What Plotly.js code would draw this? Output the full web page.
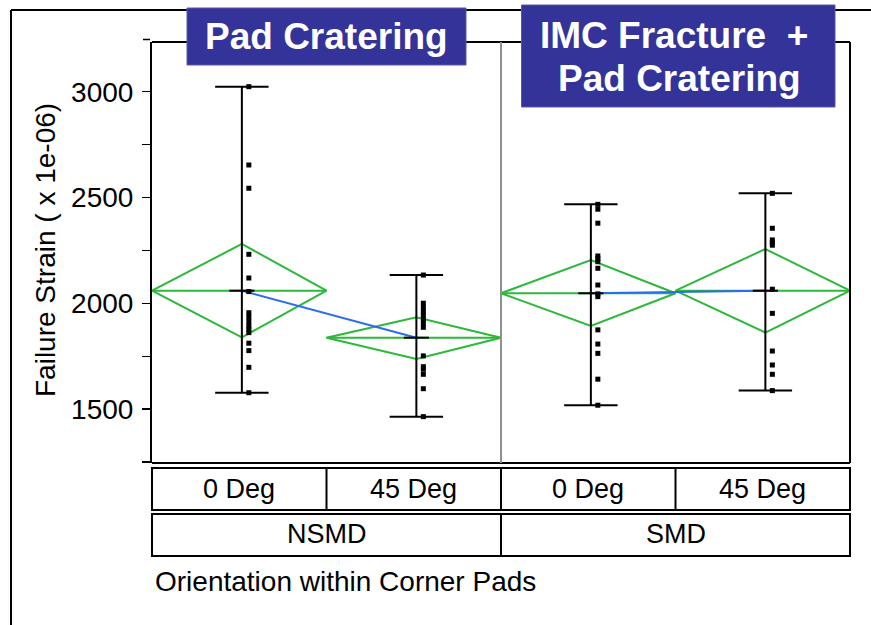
<!DOCTYPE html>
<html>
<head>
<meta charset="utf-8">
<script src="https://cdn.plot.ly/plotly-3.0.1.min.js"></script>
<style>html,body{margin:0;padding:0;background:#fff;}#chart{width:871px;height:625px;}</style>
</head>
<body>
<div id="chart"></div>
<script>
// ---------- data ----------
const orientationLabels = ["0 Deg", "45 Deg", "0 Deg", "45 Deg"];
const padTypeLabels = ["NSMD", "SMD"];
const strain_NSMD_0 = [3024, 2654, 2544, 2232, 2120, 2056, 1956, 1935, 1914, 1893, 1878, 1862, 1812, 1777, 1698, 1578];
const strain_NSMD_45 = [2134, 2001, 1982, 1963, 1944, 1925, 1906, 1887, 1752, 1701, 1689, 1665, 1597, 1465];
const strain_SMD_0 = [2468, 2445, 2379, 2224, 2211, 2197, 2166, 2087, 2045, 2032, 1875, 1808, 1764, 1642, 1519];
const strain_SMD_45 = [2520, 2355, 2300, 2287, 2275, 2067, 1953, 1775, 1709, 1665, 1588];
const groupMeans = [2060, 1838, 2048, 2060];
const diamondUpper = [2281, 1934, 2205, 2257];
const diamondLower = [1840, 1738, 1893, 1862];
const yTickVals = [1500, 2000, 2500, 3000];
const panelTitles = ["Pad Cratering", "IMC Fracture\u00a0 +", "Pad Cratering"];
const yTitle = "Failure Strain ( x 1e-06)";
const xTitle = "Orientation within Corner Pads";

const groups = [strain_NSMD_0, strain_NSMD_45, strain_SMD_0, strain_SMD_45];

// ---------- styling / geometry ----------
const GREEN = "#2cb83a", BLUE = "#2a6cf0", NAVY = "#333399";
const FONT = "Liberation Sans, Arial, sans-serif";
const L = 152, R = 850, T = 42, B = 463;
const PX = p => (p - L) / (R - L);
const PY = p => (B - p) / (B - T);
const C = 0.515, P = 0.555, CAP = 0.153, MT = 0.072;

const traces = [];
// mean diamonds
groups.forEach((g, i) => {
  traces.push({
    x: [i, i + C, i + 1, i + C, i, null, i, i + 1],
    y: [groupMeans[i], diamondUpper[i], groupMeans[i], diamondLower[i], groupMeans[i], null, groupMeans[i], groupMeans[i]],
    mode: "lines", line: {color: GREEN, width: 2}, hoverinfo: "skip", showlegend: false
  });
});
// connecting means
[[0, 1], [2, 3]].forEach(([a, b]) => {
  traces.push({x: [a + C, b + C], y: [groupMeans[a], groupMeans[b]], mode: "lines",
    line: {color: BLUE, width: 2}, hoverinfo: "skip", showlegend: false});
});
// whiskers (range) + mean ticks
const wx = [], wy = [];
groups.forEach((g, i) => {
  const mx = Math.max(...g), mn = Math.min(...g), c = i + C;
  wx.push(c, c, null, c - CAP, c + CAP, null, c - CAP, c + CAP, null, c - MT, c + MT, null);
  wy.push(mn, mx, null, mx, mx, null, mn, mn, null, groupMeans[i], groupMeans[i], null);
});
traces.push({x: wx, y: wy, mode: "lines", line: {color: "#000", width: 2}, hoverinfo: "skip", showlegend: false});
// points
const px = [], py = [];
groups.forEach((g, i) => g.forEach(v => { px.push(i + P); py.push(v); }));
traces.push({x: px, y: py, mode: "markers", marker: {symbol: "square", size: 5, color: "#000"}, hoverinfo: "skip", showlegend: false});

// ---------- shapes ----------
const line = (x0, y0, x1, y1, color, w, xref) => ({type: "line", xref: xref || "paper", yref: "paper",
  x0, y0, x1, y1, line: {color: color || "#000", width: w || 2}});
const shapes = [
  // outer report frame
  line(PX(11), PY(10), PX(11), PY(625)),
  line(PX(11), PY(10), PX(871), PY(10)),
  // plot frame
  line(0, 1, 1, 1), line(1, 0, 1, 1), line(0, 0, 1, 0),
  line(PX(143), PY(39.5), PX(150), PY(39.5), "#000", 1.5),
  // NSMD / SMD separator
  line(2, 0, 2, 1, "#909090", 2, "x"),
  // category table rows
  {type: "rect", xref: "paper", yref: "paper", x0: 0, x1: 1, y0: PY(468), y1: PY(510), line: {color: "#000", width: 2}},
  {type: "rect", xref: "paper", yref: "paper", x0: 0, x1: 1, y0: PY(514), y1: PY(556), line: {color: "#000", width: 2}},
  line(1, PY(468), 1, PY(510), "#000", 2, "x"),
  line(2, PY(468), 2, PY(510), "#000", 2, "x"),
  line(3, PY(468), 3, PY(510), "#000", 2, "x"),
  line(2, PY(514), 2, PY(556), "#000", 2, "x"),
  // title boxes
  {type: "rect", xref: "paper", yref: "paper", x0: PX(187), x1: PX(466), y0: PY(65), y1: PY(8),
    fillcolor: NAVY, line: {color: "#5a5aa8", width: 1}},
  {type: "rect", xref: "paper", yref: "paper", x0: PX(521.5), x1: PX(835), y0: PY(107), y1: PY(5),
    fillcolor: NAVY, line: {color: "#5a5aa8", width: 1}}
];

// ---------- annotations ----------
const annotations = [];
orientationLabels.forEach((t, i) => annotations.push({x: i + 0.5, xref: "x", y: PY(489), yref: "paper",
  text: t, showarrow: false, xanchor: "center", yanchor: "middle", font: {family: FONT, size: 27, color: "#000"}}));
padTypeLabels.forEach((t, i) => annotations.push({x: 2 * i + 1, xref: "x", y: PY(534), yref: "paper",
  text: t, showarrow: false, xanchor: "center", yanchor: "middle", font: {family: FONT, size: 27, color: "#000"}}));
annotations.push({x: PX(153), xref: "paper", y: PY(581), yref: "paper", text: xTitle, showarrow: false,
  xanchor: "left", yanchor: "middle", font: {family: FONT, size: 28, color: "#000"}});
annotations.push({x: PX(45), xref: "paper", y: PY(250), yref: "paper", text: yTitle, showarrow: false,
  textangle: -90, xanchor: "center", yanchor: "middle", font: {family: FONT, size: 28, color: "#000"}});
const titleFont = {family: FONT, size: 37, color: "#fff", weight: "bold"};
annotations.push({x: PX(326.5), xref: "paper", y: PY(37), yref: "paper", text: "<b>" + panelTitles[0] + "</b>",
  showarrow: false, xanchor: "center", yanchor: "middle", font: titleFont});
annotations.push({x: PX(674), xref: "paper", y: PY(36), yref: "paper", text: "<b>" + panelTitles[1] + "</b>",
  showarrow: false, xanchor: "center", yanchor: "middle", font: titleFont});
annotations.push({x: PX(679), xref: "paper", y: PY(79), yref: "paper", text: "<b>" + panelTitles[2] + "</b>",
  showarrow: false, xanchor: "center", yanchor: "middle", font: titleFont});

const layout = {
  width: 871, height: 625,
  margin: {l: L, r: 871 - R, t: T, b: 625 - B, pad: 0},
  paper_bgcolor: "#fff", plot_bgcolor: "#fff",
  showlegend: false,
  xaxis: {range: [0, 4], showgrid: false, zeroline: false, showticklabels: false, ticks: "", showline: false, fixedrange: true},
  yaxis: {range: [1246, 3235], showgrid: false, zeroline: false, showline: true, linecolor: "#000", linewidth: 2,
    tickvals: yTickVals, ticktext: yTickVals.map(String), ticks: "outside", ticklen: 8, tickwidth: 1.5, tickcolor: "#000",
    minor: {dtick: 250, tick0: 0, ticks: "outside", ticklen: 8, tickwidth: 1.5, tickcolor: "#000"},
    ticklabelstandoff: 3,
    tickfont: {family: FONT, size: 28, color: "#000"}, fixedrange: true},
  shapes, annotations
};

Plotly.newPlot("chart", traces, layout, {staticPlot: true, displayModeBar: false});
</script>
</body>
</html>
